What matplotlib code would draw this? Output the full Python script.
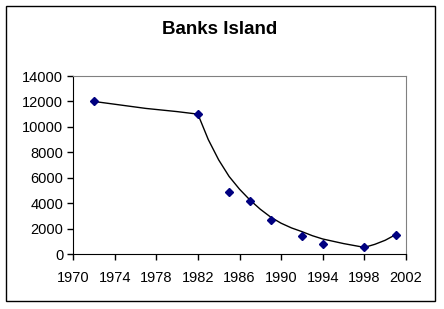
import numpy as np
import matplotlib.pyplot as plt
from matplotlib.patches import Rectangle

# observed counts (diamonds)
years = [1972, 1982, 1985, 1987, 1989, 1992, 1994, 1998, 2001]
counts = [12000, 11000, 4900, 4200, 2650, 1450, 800, 520, 1520]

# smoothed trend line
lineYears = [1972, 1974, 1977, 1980, 1982, 1983, 1984, 1985, 1986, 1987,
             1988, 1989, 1990, 1991, 1992, 1993, 1994, 1996, 1998, 1999,
             2000, 2001]
lineVals = [12000, 11780, 11450, 11200, 11000, 9000, 7400, 6100, 5100, 4250,
            3520, 2900, 2420, 2050, 1760, 1440, 1180, 820, 520, 760,
            1080, 1520]

xTicks = list(range(1970, 2003, 4))
yTicks = list(range(0, 14001, 2000))

plt.rcParams['font.family'] = ['Liberation Sans', 'DejaVu Sans']

fig = plt.figure(figsize=(4.44, 3.09), dpi=100)
fig.patches.append(Rectangle((6 / 444, 1 - 301 / 309), 429 / 444, 295 / 309,
                             transform=fig.transFigure, fill=False,
                             edgecolor='black', linewidth=1))

ax = fig.add_axes([73 / 444, 1 - 254 / 309, 333 / 444, 178 / 309])
ax.plot(lineYears, lineVals, color='black', linewidth=1, zorder=2)
ax.plot(years, counts, linestyle='none', marker='D', markersize=4.5,
        color='#000080', zorder=3)

ax.set_xlim(1970, 2002)
ax.set_ylim(0, 14000)
ax.set_xticks(xTicks)
ax.set_yticks(yTicks)
ax.tick_params(direction='out', length=4, width=1, colors='black', labelsize=10.5)
ax.tick_params(axis='x', pad=8)
ax.tick_params(axis='y', pad=3)

for side in ['top', 'right']:
    ax.spines[side].set_color('#808080')
for side in ['left', 'bottom']:
    ax.spines[side].set_color('black')

fig.text(220 / 444, 1 - 29 / 309, 'Banks Island', ha='center', va='center',
         fontsize=13.5, fontweight='bold')

fig.savefig('out.png', dpi=100)
